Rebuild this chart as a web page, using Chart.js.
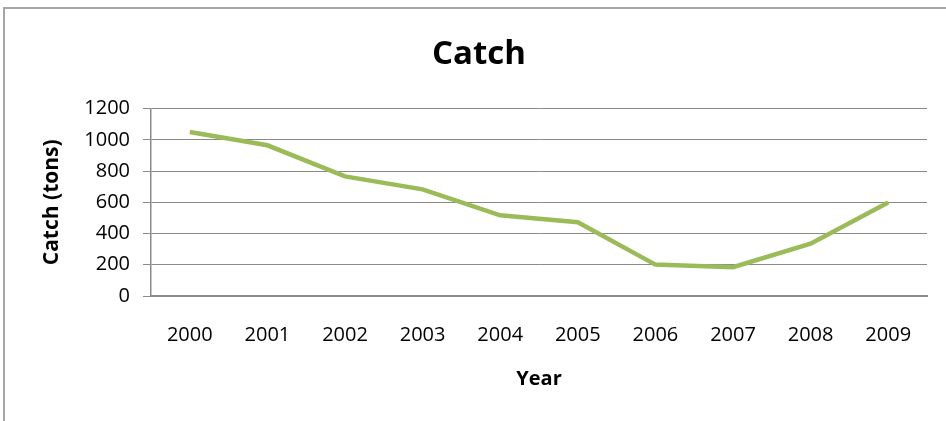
<!DOCTYPE html>
<html>
<head>
<meta charset="utf-8">
<script src="https://cdn.jsdelivr.net/npm/chart.js@4/dist/chart.umd.min.js"></script>
<style>
  html, body { margin: 0; padding: 0; background: #fff; overflow: hidden; }
  #wrap { position: relative; width: 946px; height: 421px; overflow: hidden; }
  #frame {
    position: absolute; left: 3px; top: 7px; width: 1000px; height: 500px;
    border: 2px solid #a6a6a6;
  }
  #catch-chart { position: absolute; left: 0; top: 0; }
</style>
</head>
<body>
<div id="wrap">
  <div id="frame"></div>
  <canvas id="catch-chart" width="946" height="421"></canvas>
</div>
<script>
const years = ['2000', '2001', '2002', '2003', '2004', '2005', '2006', '2007', '2008', '2009'];
const catchTons = [1050, 965, 766, 683, 517, 472, 201, 184, 335, 598];
const yTicks = [0, 200, 400, 600, 800, 1000, 1200];

const GREEN = '#9BBB59';
const GRID = '#8a8a8a';
const FONT = "'Open Sans', sans-serif";

const ctx = document.getElementById('catch-chart');

new Chart(ctx, {
    type: 'line',
    data: {
        labels: years,
        datasets: [
            {
                label: 'Catch',
                data: catchTons,
                borderColor: GREEN,
                backgroundColor: GREEN,
                borderWidth: 4.5,
                pointRadius: 0,
                tension: 0,
                fill: false
            }
        ]
    },
    options: {
        responsive: false,
        animation: false,
        layout: {
            padding: { left: 31, right: 19, top: 0, bottom: 0 }
        },
        plugins: {
            legend: { display: false },
            tooltip: { enabled: false },
            title: {
                display: true,
                text: 'Catch',
                color: '#000',
                font: { family: FONT, size: 33, weight: 'bold' },
                padding: { top: 35, bottom: 34 }
            }
        },
        scales: {
            x: {
                offset: true,
                grid: { drawOnChartArea: false, drawTicks: false },
                border: { display: true, color: GRID, width: 2 },
                ticks: {
                    color: '#000',
                    padding: 27,
                    maxRotation: 0,
                    font: { family: FONT, size: 20 }
                },
                title: {
                    display: true,
                    text: 'Year',
                    color: '#000',
                    font: { family: FONT, size: 20, weight: 'bold' },
                    padding: { top: 0, bottom: 30 }
                },
                afterFit: function (scale) { scale.height = 125; }
            },
            y: {
                min: 0,
                max: 1200,
                afterBuildTicks: function (scale) {
                    scale.ticks = yTicks.map(function (v) { return { value: v }; });
                },
                grid: { color: GRID, lineWidth: 1, tickLength: 8 },
                border: { display: true, color: GRID, width: 1.5 },
                ticks: {
                    color: '#000',
                    padding: 13,
                    font: { family: FONT, size: 20 },
                    callback: function (value) { return String(value); }
                },
                title: {
                    display: true,
                    text: 'Catch (tons)',
                    color: '#000',
                    font: { family: FONT, size: 21, weight: 'bold' },
                    padding: { top: 8, bottom: 0 }
                },
                afterFit: function (scale) { scale.width = 120; }
            }
        }
    }
});
</script>
</body>
</html>
